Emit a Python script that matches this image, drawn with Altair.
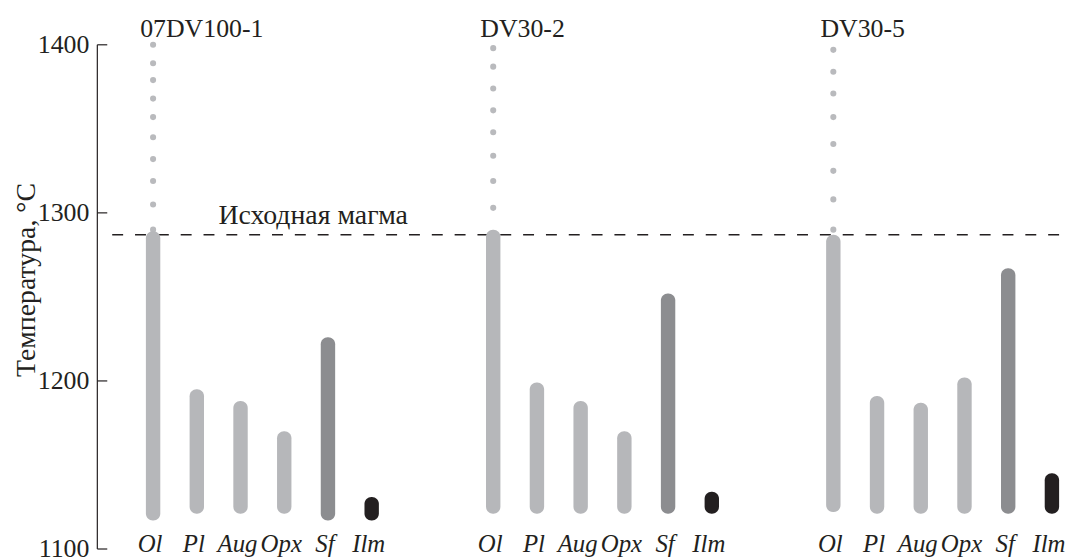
import altair as alt
import pandas as pd

# ---------------- data ----------------
samples = ["07DV100-1", "DV30-2", "DV30-5"]
minerals = ["Ol", "Pl", "Aug", "Opx", "Sf", "Ilm"]

# crystallization temperature ranges (°C), one list per sample, order = minerals
t_low_07dv100_1 = [1117, 1121, 1121, 1121, 1117, 1117]
t_high_07dv100_1 = [1289, 1195, 1188, 1170, 1226, 1131]
t_low_dv30_2 = [1121, 1121, 1121, 1121, 1121, 1121]
t_high_dv30_2 = [1290, 1199, 1188, 1170, 1252, 1134]
t_low_dv30_5 = [1122, 1121, 1121, 1121, 1121, 1121]
t_high_dv30_5 = [1287, 1191, 1187, 1202, 1267, 1145]

# dotted continuation of olivine above the initial magma
ol_dots_07dv100_1 = [1400, 1389, 1379, 1368, 1357, 1345, 1332, 1319, 1305, 1290]
ol_dots_dv30_2 = [1398, 1387, 1374, 1361, 1348, 1334, 1319, 1303]
ol_dots_dv30_5 = [1397, 1384, 1371, 1357, 1341, 1325, 1308, 1290]

magma_t = 1287
magma_label = "Исходная магма"
y_ticks = [1100, 1200, 1300, 1400]
y_title = "Температура, °C"

mineral_colors = ["#b6b7ba", "#b6b7ba", "#b6b7ba", "#b6b7ba", "#8c8d90", "#231f20"]
dot_color = "#b9babd"
ink = "#231f20"
FONT = "Liberation Serif"

# ---------------- layout helpers ----------------
GROUP_STEP = 7.78  # slots between groups

lows = [t_low_07dv100_1, t_low_dv30_2, t_low_dv30_5]
highs = [t_high_07dv100_1, t_high_dv30_2, t_high_dv30_5]
dots = [ol_dots_07dv100_1, ol_dots_dv30_2, ol_dots_dv30_5]

bar_rows, dot_rows, title_rows, lab_rows = [], [], [], []
for g, s in enumerate(samples):
    base = g * GROUP_STEP
    title_rows.append({"sample": s, "slot": base, "t": y_ticks[-1]})
    for i, m in enumerate(minerals):
        bar_rows.append({"sample": s, "mineral": m, "slot": base + i,
                         "low": lows[g][i], "high": highs[g][i]})
        lab_rows.append({"mineral": m, "slot": base + i, "t": y_ticks[0]})
    for t in dots[g]:
        dot_rows.append({"sample": s, "slot": base, "t": t})

bars_df = pd.DataFrame(bar_rows)
dots_df = pd.DataFrame(dot_rows)
titles_df = pd.DataFrame(title_rows)
labs_df = pd.DataFrame(lab_rows)
ticks_df = pd.DataFrame({"t": y_ticks, "lab": [str(v) for v in y_ticks]})
axis_df = pd.DataFrame({"lo": [y_ticks[0]], "hi": [y_ticks[-1]], "title": [y_title]})
magma_df = pd.DataFrame({"t": [magma_t], "label": [magma_label]})

xs = alt.Scale(domain=[-1.162, 20.883], nice=False, zero=False)
ys = alt.Scale(domain=[1100, 1400], nice=False, zero=False)

# y axis drawn from the tick list: domain line, inward ticks, labels, title
axis_line = alt.Chart(axis_df).mark_rule(color=ink, strokeWidth=1.2).encode(
    y=alt.Y("lo:Q", scale=ys, axis=None),
    y2="hi:Q",
    x=alt.value(0),
)
ticks_layer = alt.Chart(ticks_df).mark_rule(color=ink, strokeWidth=1.2).encode(
    y=alt.Y("t:Q", scale=ys, axis=None),
    x=alt.value(0),
    x2=alt.value(10),
)
tick_labels = alt.Chart(ticks_df).mark_text(font=FONT, fontSize=26, color=ink,
                                            align="right", baseline="middle").encode(
    y=alt.Y("t:Q", scale=ys, axis=None),
    x=alt.value(-8),
    text="lab:N",
)
axis_title = alt.Chart(axis_df).mark_text(font=FONT, fontSize=28, color=ink, angle=270,
                                          align="center", baseline="bottom").encode(
    x=alt.value(-57),
    y=alt.value(237),
    text="title:N",
)

bars = alt.Chart(bars_df).mark_bar(width=14.5, cornerRadius=7).encode(
    x=alt.X("slot:Q", scale=xs, axis=None),
    y=alt.Y("low:Q", scale=ys, axis=None),
    y2="high:Q",
    color=alt.Color("mineral:N", scale=alt.Scale(domain=minerals, range=mineral_colors),
                    legend=None),
)

dots_layer = alt.Chart(dots_df).mark_circle(size=38, opacity=1, color=dot_color).encode(
    x=alt.X("slot:Q", scale=xs, axis=None),
    y=alt.Y("t:Q", scale=ys, axis=None),
)

magma_line = alt.Chart(magma_df).mark_rule(color=ink, strokeWidth=1.6,
                                           strokeDash=[11, 12]).encode(
    y=alt.Y("t:Q", scale=ys, axis=None),
    x=alt.value(15),
    x2=alt.value(981),
)

magma_text = alt.Chart(magma_df).mark_text(font=FONT, fontSize=28, color=ink,
                                           align="left", baseline="alphabetic",
                                           dy=-11).encode(
    y=alt.Y("t:Q", scale=ys, axis=None),
    x=alt.value(122),
    text="label:N",
)

titles = alt.Chart(titles_df).mark_text(font=FONT, fontSize=26, color=ink,
                                        align="left", baseline="alphabetic",
                                        dx=-13, dy=-8).encode(
    x=alt.X("slot:Q", scale=xs, axis=None),
    y=alt.Y("t:Q", scale=ys, axis=None),
    text="sample:N",
)

labels = alt.Chart(labs_df).mark_text(font=FONT, fontSize=25, fontStyle="italic",
                                      color=ink, align="center",
                                      baseline="alphabetic", dx=-3, dy=3).encode(
    x=alt.X("slot:Q", scale=xs, axis=None),
    y=alt.Y("t:Q", scale=ys, axis=None),
    text="mineral:N",
)

chart = alt.layer(axis_line, ticks_layer, tick_labels, axis_title, magma_line, dots_layer,
                  bars, magma_text, titles, labels).properties(
    width=981, height=508,
    padding={"left": 90, "top": 35, "right": 0, "bottom": 9},
    autosize=alt.AutoSizeParams(type="none"),
    background="white",
).configure_view(stroke=None)

chart.save("out.html", embed_options={"renderer": "svg", "actions": False})
